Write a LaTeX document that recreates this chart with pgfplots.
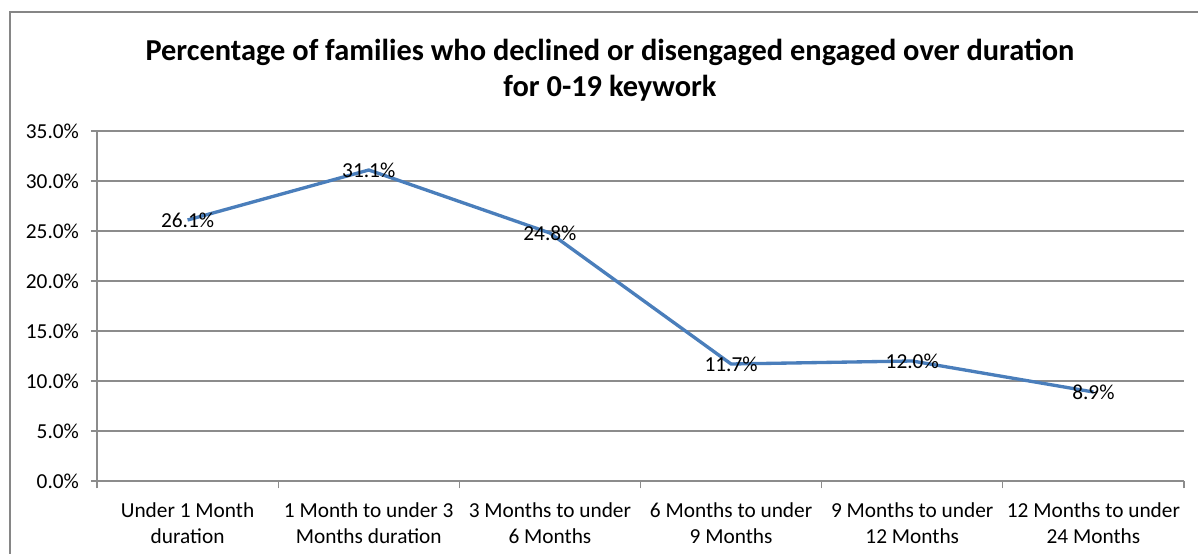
\documentclass[border=0pt]{standalone}
\usepackage{fontspec}
\setmainfont{Carlito}
\usepackage{pgfplots}
\pgfplotsset{compat=1.18}
\definecolor{linec}{HTML}{4A7EBB}
\definecolor{gridc}{HTML}{8C8C8C}
\definecolor{framec}{HTML}{868686}
\begin{document}
\begin{tikzpicture}
\useasboundingbox (0,0) rectangle (898.5pt,414.75pt);
\draw[framec, line width=1.1pt] (7.5pt,-100pt) rectangle (1000pt,405.75pt);
\node[font=\fontsize{22.8}{26.5}\selectfont\bfseries, align=center] at (457.5pt,362pt)
  {Percentage of families who declined or disengaged engaged over duration\\for 0-19 keywork};
\begin{axis}[
  at={(72.75pt,54pt)}, anchor=south west,
  width=815.25pt, height=262.5pt, scale only axis,
  xmin=-0.5, xmax=5.5, ymin=0, ymax=35,
  axis lines=left,
  axis line style={-, gridc, line width=0.9pt},
  ymajorgrids, grid style={gridc, line width=0.8pt},
  ytick={0,5,...,35},
  yticklabel={\pgfmathprintnumber[fixed,fixed zerofill,precision=1]{\tick}\%},
  yticklabel style={xshift=-5.5pt},
  /pgf/number format/assume math mode=true,
  xtick={0,...,5},
  xticklabels={{Under 1 Month\\duration},{1 Month to under 3\\Months duration},{3 Months to under\\6 Months},{6 Months to under\\9 Months},{9 Months to under\\12 Months},{12 Months to under\\24 Months}},
  xticklabel style={align=center, yshift=-8pt},
  major x tick style={draw=none},
  minor xtick={-0.5,0.5,...,5.5},
  tick align=outside,
  major tick length=4.5pt,
  minor tick length=5.5pt,
  tick style={gridc, line width=0.8pt},
  ticklabel style={font=\fontsize{16}{19.5}\selectfont},
  clip=false,
]
\addplot[linec, line width=2.5pt, mark=none,
  point meta=y,
  nodes near coords={\pgfmathprintnumber[fixed,fixed zerofill,precision=1]{\pgfplotspointmeta}\%},
  nodes near coords style={anchor=center, black, font=\fontsize{16}{19}\selectfont, /pgf/number format/assume math mode=true},
] coordinates {
  (0,26.1) (1,31.1) (2,24.8) (3,11.7) (4,12.0) (5,8.9)
};
\end{axis}
\end{tikzpicture}
\end{document}
